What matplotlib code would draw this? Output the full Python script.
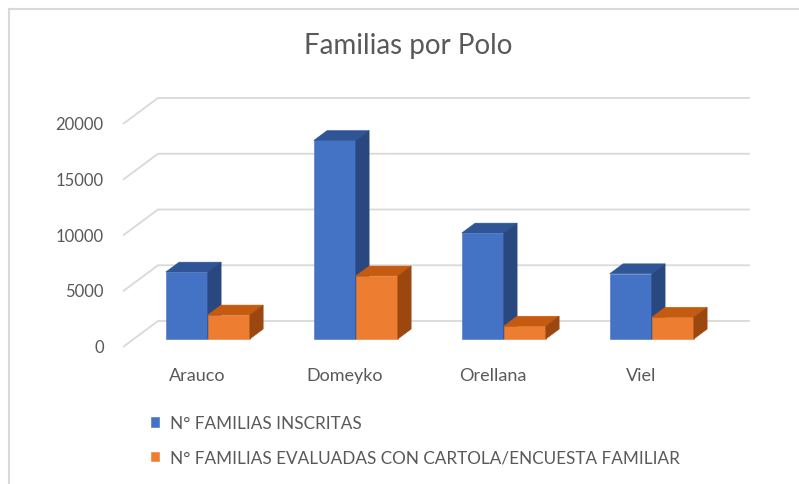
import numpy as np
import matplotlib.pyplot as plt
from matplotlib.patches import Polygon
from matplotlib.lines import Line2D

# DATOS

polos = ['Arauco', 'Domeyko', 'Orellana', 'Viel']
inscritas = [6000, 17800, 9500, 5850]
evaluadas = [2150, 5650, 1150, 1950]
series = ['N° FAMILIAS INSCRITAS',
          'N° FAMILIAS EVALUADAS CON CARTOLA/ENCUESTA FAMILIAR']
yticks = [0, 5000, 10000, 15000, 20000]

# colores: frente, tapa, lado
colores = [('#4472c4', '#2f5597', '#2a4880'),
           ('#ed7d31', '#c55a11', '#9c470f')]
gris_txt = '#595959'
gris_lin = '#d9d9d9'

plt.rcParams['font.family'] = ['Lato', 'DejaVu Sans']

fig = plt.figure(figsize=(7.99, 4.85), dpi=100)
fig.patch.set_facecolor('white')
ax = fig.add_axes([0, 0, 1, 1])
ax.set_xlim(-1.331, 4.068)
ax.set_ylim(-12287, 31211)
ax.axis('off')

# profundidad oblicua del grafico 3D (en unidades de datos)
DX, DY = 0.2365, 2332
f_front, f_back = 0.31, 0.69
ancho = 0.284
x0, x1 = -0.5, len(polos) - 0.5

# lineas de cuadricula (pared del fondo + diagonales)
for v in yticks:
    ax.plot([x0, x0 + DX, x1 + DX], [v, v + DY, v + DY],
            color=gris_lin, lw=1.3, zorder=1, solid_capstyle='butt')
    ax.text(x0 - 0.13, v, str(v), ha='right', va='center',
            fontsize=12, color=gris_txt)

# barras 3D
x = np.arange(len(polos))
fx, fy = f_front * DX, f_front * DY
ddx, ddy = (f_back - f_front) * DX, (f_back - f_front) * DY
handles = []
for j, vals in enumerate([inscritas, evaluadas]):
    frente, tapa, lado = colores[j]
    izq = x - ancho + j * ancho + fx
    b = ax.bar(izq, vals, ancho, bottom=fy, align='edge', color=frente,
               edgecolor=frente, lw=0.4, zorder=2 + j, label=series[j])
    handles.append(b)
    for l, v in zip(izq, vals):
        top = v + fy
        ax.add_patch(Polygon([(l, top), (l + ancho, top),
                              (l + ancho + ddx, top + ddy), (l + ddx, top + ddy)],
                             closed=True, fc=tapa, ec=tapa, lw=0.4, zorder=2 + j))
        ax.add_patch(Polygon([(l + ancho, fy), (l + ancho + ddx, fy + ddy),
                              (l + ancho + ddx, top + ddy), (l + ancho, top)],
                             closed=True, fc=lado, ec=lado, lw=0.4, zorder=2 + j))

for i, p in enumerate(polos):
    ax.text(i, -2500, p, ha='center', va='center', fontsize=13, color=gris_txt)

fig.text(0.511, 1 - 46 / 485, 'Familias por Polo', ha='center', va='center',
         fontsize=20, color=gris_txt)

leg = fig.legend(handles=handles, loc='upper left', bbox_to_anchor=(151 / 799, 1 - 416 / 485),
                 frameon=False, fontsize=12.3, labelcolor=gris_txt, borderpad=0,
                 borderaxespad=0, handlelength=0.45, handleheight=0.45,
                 handletextpad=0.65, labelspacing=1.1)

# marco del area del grafico
fig.add_artist(Line2D([9 / 799, 1], [1 - 10 / 485, 1 - 10 / 485],
                      transform=fig.transFigure, color=gris_lin, lw=1.5))
fig.add_artist(Line2D([9 / 799, 9 / 799], [0, 1 - 10 / 485],
                      transform=fig.transFigure, color=gris_lin, lw=1.5))

fig.savefig('out.png', dpi=100)
